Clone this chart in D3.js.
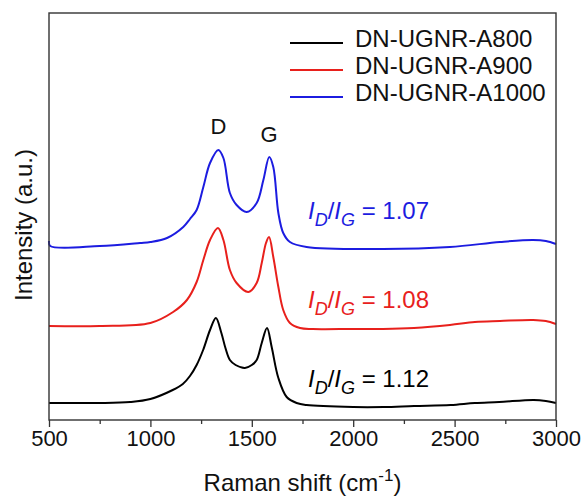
<!DOCTYPE html>
<html>
<head>
<meta charset="utf-8">
<script src="https://cdn.jsdelivr.net/npm/d3@7"></script>
<style>
  body { margin: 0; background: #fff; }
  svg { font-family: "Liberation Sans", Arial, sans-serif; }
</style>
</head>
<body>
<svg id="chart" width="581" height="497"></svg>
<script>
// Data (Raman shift in cm-1, intensity in a.u., curves already stacked)
const seriesNames = ["DN-UGNR-A800", "DN-UGNR-A900", "DN-UGNR-A1000"];
const ratioLabels = ["1.12", "1.08", "1.07"];
const xTicks = [500, 1000, 1500, 2000, 2500, 3000];

const a800 = [
  [500, 17], [600, 17], [750, 17], [900, 18], [1000, 21], [1110, 30], [1160, 36],
  [1195, 44], [1228, 55], [1260, 70], [1294, 90], [1323, 102], [1350, 87],
  [1370, 72], [1392, 60], [1420, 55], [1466, 52], [1500, 55], [1524, 60],
  [1549, 77], [1575, 92], [1598, 73], [1631, 42], [1672, 23], [1721, 17],
  [1770, 15], [2000, 13], [2150, 13], [2300, 14], [2480, 15], [2600, 17],
  [2720, 18], [2890, 20], [2950, 19], [3000, 17]
];
const a900 = [
  [500, 94], [750, 94], [1000, 97], [1112, 108], [1180, 120], [1228, 138],
  [1261, 160], [1294, 180], [1333, 192], [1360, 180], [1392, 150], [1425, 137],
  [1483, 128], [1524, 137], [1549, 157], [1570, 177], [1585, 183], [1606, 163],
  [1631, 133], [1655, 110], [1688, 97], [1738, 92], [1800, 91], [2000, 91],
  [2147, 91], [2300, 92], [2477, 95], [2600, 98], [2724, 99], [2887, 100],
  [2950, 99], [3000, 96]
];
const a1000 = [
  [500, 179], [506, 174], [750, 174], [949, 177], [1000, 178], [1082, 182],
  [1162, 193], [1195, 201], [1228, 210], [1261, 233], [1294, 257], [1335, 270],
  [1360, 262], [1392, 227], [1425, 215], [1475, 208], [1524, 217], [1557, 240],
  [1586, 263], [1606, 253], [1631, 207], [1655, 187], [1688, 178], [1770, 173],
  [2147, 171], [2477, 173], [2724, 178], [2887, 180], [2950, 179], [3000, 176]
];

const spectra = [a800, a900, a1000];
const colors = ["#000000", "#e8201c", "#1c1ce0"];

// Layout
const svg = d3.select("#chart");
const margin = { top: 13, right: 25, bottom: 77, left: 49 };
const width = +svg.attr("width") - margin.left - margin.right;
const height = +svg.attr("height") - margin.top - margin.bottom;
const g = svg.append("g")
  .attr("transform", "translate(" + margin.left + "," + margin.top + ")");

const x = d3.scaleLinear().domain([500, 3000]).range([0, width]);
const y = d3.scaleLinear().domain([0, 407]).range([height, 0]);

// Minor ticks then major ticks on the bottom
g.append("g")
  .attr("transform", "translate(0," + height + ")")
  .call(d3.axisBottom(x).tickValues(d3.range(750, 3000, 500)).tickSize(4).tickFormat(""))
  .call(a => a.select(".domain").remove())
  .call(a => a.selectAll("line").attr("stroke", "#333").attr("stroke-width", 1.3));

const xAxis = g.append("g")
  .attr("transform", "translate(0," + height + ")")
  .call(d3.axisBottom(x).tickValues(xTicks).tickSize(7).tickPadding(3).tickFormat(d3.format("d")));
xAxis.select(".domain").remove();
xAxis.selectAll("line").attr("stroke", "#333").attr("stroke-width", 1.3);
xAxis.selectAll("text").attr("font-size", 22).attr("fill", "#111")
  .attr("font-family", "Liberation Sans, Arial, sans-serif");

// Spectra
const line = d3.line()
  .x(d => x(d[0]))
  .y(d => y(d[1]))
  .curve(d3.curveCatmullRom.alpha(0.5));

g.selectAll("path.spec").data(spectra)
  .join("path")
  .attr("class", "spec")
  .attr("d", line)
  .attr("fill", "none")
  .attr("stroke", (d, i) => colors[i])
  .attr("stroke-width", 2);

// Frame
g.append("rect")
  .attr("width", width).attr("height", height)
  .attr("fill", "none").attr("stroke", "#333").attr("stroke-width", 1.4);

// Peak labels
g.append("text").attr("x", x(1335)).attr("y", y(286))
  .attr("text-anchor", "middle").attr("font-size", 22).attr("fill", "#111").text("D");
g.append("text").attr("x", x(1585)).attr("y", y(278))
  .attr("text-anchor", "middle").attr("font-size", 22).attr("fill", "#111").text("G");

// I_D/I_G labels
const ratioY = [33, 112, 201];
ratioLabels.forEach((r, i) => {
  const t = g.append("text")
    .attr("x", x(1777)).attr("y", y(ratioY[i]))
    .attr("font-size", 24).attr("fill", colors[i]);
  t.append("tspan").attr("font-style", "italic").text("I");
  t.append("tspan").attr("font-style", "italic").attr("font-size", 18).attr("dy", 7).text("D");
  t.append("tspan").attr("dy", -7).text("/");
  t.append("tspan").attr("font-style", "italic").text("I");
  t.append("tspan").attr("font-style", "italic").attr("font-size", 18).attr("dy", 7).text("G");
  t.append("tspan").attr("dy", -7).text(" = " + r);
});

// Legend
const legend = svg.append("g");
seriesNames.forEach((name, i) => {
  const ly = 43 + i * 27;
  legend.append("line")
    .attr("x1", 290).attr("x2", 343).attr("y1", ly).attr("y2", ly)
    .attr("stroke", colors[i]).attr("stroke-width", 2);
  legend.append("text")
    .attr("x", 355).attr("y", ly + 4)
    .attr("font-size", 24).attr("fill", "#111").text(name);
});

// Axis titles
const xt = svg.append("text")
  .attr("x", margin.left + width / 2).attr("y", 491)
  .attr("text-anchor", "middle").attr("font-size", 24).attr("fill", "#111");
xt.append("tspan").text("Raman shift (cm");
xt.append("tspan").attr("font-size", 17).attr("dy", -10).text("-1");
xt.append("tspan").attr("dy", 10).text(")");

svg.append("text")
  .attr("transform", "translate(32,225) rotate(-90)")
  .attr("text-anchor", "middle").attr("font-size", 24).attr("fill", "#111")
  .text("Intensity (a.u.)");
</script>
</body>
</html>
